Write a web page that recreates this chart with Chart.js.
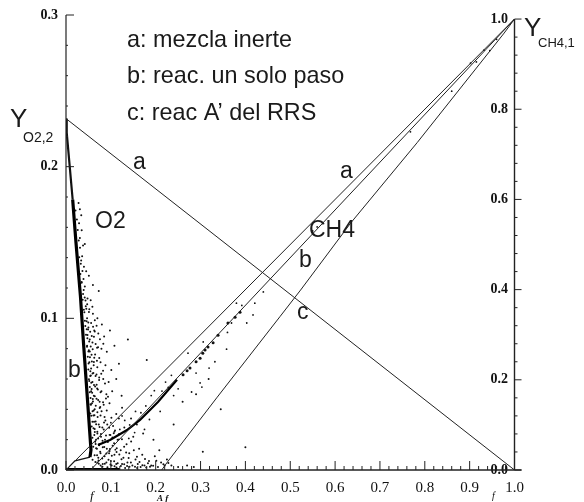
<!DOCTYPE html>
<html><head><meta charset="utf-8">
<style>html,body{margin:0;padding:0;background:#fff}canvas{display:block}</style>
<script src="https://cdn.jsdelivr.net/npm/chart.js@4"></script>
</head><body>
<div style="width:584px;height:502px"><canvas id="c" width="584" height="502"></canvas></div>
<script>
// Tick values
const xTicks = [0,0.1,0.2,0.3,0.4,0.5,0.6,0.7,0.8,0.9,1.0];
const o2Ticks = [0,0.1,0.2,0.3];
const ch4Ticks = [0,0.2,0.4,0.6,0.8,1.0];
// Lines
const o2Inert = [[0,0.2317],[1,0]];
const ch4Inert = [[0,0],[1,1]];
const ch4OneStep = [[0.055,0],[1,1]];
const ch4Rrs = [[0.2134,0],[0.2245,0.0155],[0.336,0.16],[0.477,0.34],[0.523,0.399],[0.635,0.548],[0.783,0.726],[0.977,0.969],[1,1]];
const o2SpineThin = [[0,0.2317],[0.0016,0.2224],[0.0149,0.1782]];
const o2Spine = [[0.0149,0.1782],[0.0223,0.1498],[0.0323,0.1142],[0.039,0.0838],[0.0479,0.0462],[0.0557,0.0132],[0.0535,0.0085]];
const ch4BandThick = [[0.0713,0.0554],[0.0981,0.0665],[0.136,0.0887],[0.165,0.111],[0.205,0.151],[0.2475,0.2]];
const originTail = [[0.0535,0.0085],[0.02,0.006],[0,0]];
const baseBand = [[0,0.0005],[0.12,0.0005]];
const ch4BandDots = [[0.261,0.211],[0.27,0.22],[0.2765,0.226],[0.29,0.24],[0.299,0.248],[0.305,0.259],[0.31,0.266],[0.3166,0.273],[0.328,0.282],[0.339,0.299],[0.361,0.326],[0.377,0.339],[0.388,0.35]];
const ch4Spray = [[0.369,0.326],[0.421,0.37],[0.417,0.344],[0.403,0.326],[0.358,0.268],[0.332,0.24],[0.319,0.226],[0.299,0.193],[0.303,0.184],[0.28,0.173],[0.306,0.284],[0.272,0.259],[0.25,0.18],[0.235,0.21],[0.222,0.195],[0.21,0.13],[0.19,0.165],[0.175,0.09],[0.155,0.13],[0.14,0.07],[0.125,0.12],[0.11,0.045],[0.12,0.09],[0.1,0.105],[0.38,0.37],[0.392,0.365],[0.932,0.931],[0.902,0.902],[0.768,0.75],[0.56,0.539],[0.55,0.53],[0.915,0.905],[0.945,0.93],[0.96,0.955],[0.86,0.84],[0.44,0.395],[0.36,0.305],[0.29,0.215],
[0.118,0.068],[0.131,0.11],[0.142,0.1],[0.153,0.083],[0.167,0.127],[0.178,0.142],[0.186,0.112],[0.197,0.176],[0.214,0.175],[0.228,0.183],[0.24,0.165],[0.108,0.085],[0.097,0.078]];
const o2Spray = [[0.031,0.172],[0.034,0.168],[0.028,0.176],[0.035,0.158],[0.031,0.153],[0.038,0.148],[0.042,0.149],[0.036,0.141],[0.033,0.136],[0.04,0.134],[0.045,0.131],[0.051,0.128],[0.039,0.126],[0.035,0.124],[0.042,0.121],[0.06,0.122],[0.073,0.118],[0.038,0.116],[0.048,0.113],[0.055,0.112],[0.044,0.108],[0.041,0.104],[0.052,0.106],[0.06,0.103],[0.047,0.1],[0.07,0.1],[0.08,0.096],[0.043,0.095],
[0.046,0.098],[0.05,0.094],[0.056,0.097],[0.063,0.092],[0.072,0.09],[0.085,0.088],[0.098,0.092],[0.048,0.089],[0.053,0.086],[0.059,0.084],[0.066,0.083],[0.079,0.08],[0.091,0.078],[0.108,0.082],[0.047,0.082],[0.051,0.079],[0.057,0.076],[0.063,0.074],[0.069,0.072],[0.077,0.071],[0.088,0.069],[0.101,0.066],[0.118,0.07],[0.052,0.071],[0.056,0.067],[0.061,0.064],[0.068,0.063],[0.074,0.061],[0.083,0.06],[0.095,0.058],[0.112,0.06],[0.054,0.062],[0.059,0.058],[0.065,0.055],[0.071,0.053],[0.079,0.052],[0.09,0.05],[0.103,0.052],[0.124,0.049],[0.056,0.052],[0.062,0.049],[0.068,0.047],[0.075,0.045],[0.084,0.043],[0.097,0.044],[0.058,0.044],[0.064,0.04],[0.07,0.038],[0.077,0.036],[0.086,0.035],[0.061,0.036],[0.066,0.032],[0.073,0.03],[0.081,0.028],[0.092,0.03],[0.064,0.027],[0.07,0.024],[0.078,0.022],[0.087,0.02],[0.099,0.023],[0.067,0.02],[0.074,0.017],[0.082,0.015],[0.091,0.014],[0.104,0.016],[0.115,0.02],[0.069,0.014],[0.077,0.011],[0.086,0.009],[0.096,0.011],[0.108,0.01],[0.122,0.013],[0.135,0.017],[0.072,0.008],
[0.18,0.0726],[0.138,0.086],[0.172,0.024],[0.15,0.022],[0.163,0.014],[0.128,0.008],[0.141,0.011],[0.155,0.007],[0.17,0.01],[0.185,0.006],[0.198,0.009],[0.212,0.005],[0.225,0.007],[0.09,0.005],[0.1,0.006],[0.112,0.004],[0.125,0.004],[0.137,0.005],[0.148,0.003],[0.16,0.004],[0.175,0.003],[0.19,0.003],[0.205,0.002],[0.22,0.003],[0.235,0.003],[0.25,0.002],[0.27,0.003],[0.285,0.002],[0.082,0.004],[0.07,0.005],[0.105,0.029],[0.118,0.034],[0.13,0.028],[0.145,0.034],[0.125,0.041],[0.112,0.037],[0.158,0.03],[0.195,0.02],[0.208,0.013],[0.24,0.03],[0.305,0.012],[0.4,0.015],[0.345,0.04],[0.29,0.05],[0.318,0.06],[0.26,0.045]];
const o2SprayDense = [[0.0435,0.1117],[0.0472,0.1093],[0.0511,0.1041],[0.0588,0.1076],[0.0643,0.0987],[0.0497,0.0973],[0.0539,0.0912],[0.0461,0.0928],[0.0604,0.0945],[0.0682,0.0951],[0.0757,0.0862],[0.0517,0.0848],[0.0477,0.0869],[0.0623,0.0879],[0.0551,0.0814],[0.0715,0.0809],[0.0499,0.0781],[0.0832,0.0833],[0.0595,0.0796],[0.0534,0.0743],[0.0649,0.0762],[0.0741,0.0738],[0.0577,0.0715],[0.0503,0.0702],[0.0618,0.0691],[0.0698,0.0677],[0.0543,0.0651],[0.0826,0.0654],[0.0592,0.0637],[0.0659,0.0619],[0.0738,0.0593],[0.0512,0.0598],[0.0563,0.0576],[0.0624,0.0561],[0.0869,0.0571],[0.0694,0.0538],[0.0531,0.0547],[0.0771,0.0512],[0.0583,0.0509],[0.0642,0.0487],[0.0936,0.0483],[0.0548,0.0474],[0.0717,0.0461],[0.0601,0.0452],[0.0826,0.0447],[0.0556,0.0431],[0.0663,0.0423],[0.0751,0.0408],[0.0908,0.0392],[0.0592,0.0387],
[0.0541,0.0372],[0.0634,0.0361],[0.0705,0.0349],[0.0793,0.0388],[0.0878,0.0326],[0.1012,0.0344],[0.0589,0.0318],[0.0672,0.0301],[0.0749,0.0284],[0.0841,0.0267],[0.0962,0.0279],[0.1093,0.0261],[0.0613,0.0275],[0.0698,0.0253],[0.0779,0.0237],[0.0892,0.0228],[0.1035,0.0214],[0.1183,0.0238],[0.0631,0.0231],[0.0716,0.0207],[0.0815,0.0193],[0.0934,0.0184],[0.1072,0.0176],[0.1247,0.0203],[0.0651,0.0186],[0.0738,0.0163],[0.0853,0.0151],[0.0979,0.0139],[0.1131,0.0143],[0.1296,0.0154],[0.1452,0.0188],[0.0671,0.0143],[0.0762,0.0121],[0.0901,0.0108],[0.1021,0.0094],[0.1189,0.0102],[0.1341,0.0116],[0.1512,0.0131],[0.0693,0.0098],[0.0808,0.0076],[0.0947,0.0067],[0.1073,0.0058],[0.1237,0.0071],[0.1397,0.0079],[0.1582,0.0088],[0.1761,0.0073],[0.0725,0.0063],[0.0866,0.0041],[0.0991,0.0037],[0.1152,0.0044],[0.1298,0.0038],[0.1447,0.0049],[0.1639,0.0052],[0.1827,0.0044],[0.2014,0.0061],[0.0772,0.0029],[0.1083,0.0024],[0.1361,0.0027],[0.1538,0.0022],[0.1703,0.0031],[0.1942,0.0028],[0.2171,0.0038],[0.2283,0.0046]];
const o2SprayNearSpine = [[0.0212,0.1711],[0.0243,0.1652],[0.0262,0.1583],[0.0291,0.1627],[0.0284,0.1514],[0.0312,0.1466],[0.0295,0.1402],[0.0338,0.1381],[0.0321,0.1293],[0.0366,0.1312],[0.0349,0.1234],[0.0394,0.1187],[0.0372,0.1122],[0.0417,0.1138],[0.0398,0.1056],[0.0453,0.1063],[0.0421,0.0984],[0.0446,0.0891],[0.0492,0.0927],[0.0468,0.0812],[0.0486,0.0746],[0.0531,0.0781],[0.0497,0.0662],[0.0518,0.0586],[0.0553,0.0623],[0.0529,0.0512],[0.0571,0.0534],[0.0546,0.0433],[0.0598,0.0468],[0.0562,0.0357],[0.0617,0.0392],[0.0573,0.0286],[0.0626,0.0318],[0.0589,0.0213],[0.0643,0.0251],[0.0607,0.0154],[0.0661,0.0172],[0.0638,0.0097],[0.0592,0.0068],[0.0655,0.0052],[0.0731,0.0041],[0.0812,0.0022],[0.0924,0.0018],[0.1017,0.0029],[0.1126,0.0017],[0.1223,0.0026],[0.1318,0.0014],[0.1416,0.0021],[0.1586,0.0013],[0.1664,0.0019],[0.1788,0.0016],[0.1873,0.0021],[0.0972,0.0126],[0.1127,0.0118],[0.1064,0.0243],[0.0848,0.0314],[0.0764,0.0415],[0.0891,0.0472],[0.0683,0.0562],[0.0786,0.0634],[0.0622,0.0712],[0.0693,0.0806],[0.0574,0.0883],[0.0641,0.0914]];

const pts = a => a.map(p => ({x:p[0], y:p[1]}));
const lineSet = (a, axis, w, col='#222') => ({type:'line', data:pts(a), yAxisID:axis, borderColor:col, borderWidth:w, pointRadius:0, tension:0, fill:false, parsing:false});
const dotSet = (a, axis, r, col='#111') => ({type:'scatter', data:pts(a), yAxisID:axis, backgroundColor:col, borderWidth:0, pointRadius:r, pointHoverRadius:r, parsing:false});

const annotations = [
 ['a: mezcla inerte',127,47,23.4],['b: reac. un solo paso',127,83,23.4],['c: reac A\u2019 del RRS',127,120,23.4],
 ['a',133,169,23],['O2',95,228,23],['a',340,178,23],['CH4',309,237,23],['b',299,267,23],['c',297,319,23],['b',68,377,23],
 ['Y',10,127,26],['O2,2',23,142,14],['Y',524,36,26],['CH4,1',538,47,13]
];
const smallLabels = [['f',90,500,'italic 13px "Liberation Serif"'],['f',492,499,'italic 10px "Liberation Serif"'],['A f',157,501,'italic bold 9px "Liberation Serif"']];

const decor = {
 id:'decor',
 afterDatasetsDraw(ch){
  const g = ch.ctx, X = ch.scales.x, L = ch.scales.o2, R = ch.scales.ch4;
  const x0 = X.getPixelForValue(0), x1 = X.getPixelForValue(1), yb = L.getPixelForValue(0);
  g.save(); g.strokeStyle='#222'; g.fillStyle='#111';
  const seg=(a,b,c,d,w)=>{g.lineWidth=w;g.beginPath();g.moveTo(a,b);g.lineTo(c,d);g.stroke();};
  seg(x0,L.getPixelForValue(0.3),x0,yb,1.2);
  seg(x1,R.getPixelForValue(1),x1,yb,1.4);
  seg(x0,yb,x1+7,yb,1.6);
  for(let i=0;i<=50;i++){const v=i/50,p=X.getPixelForValue(v);seg(p,yb,p,yb-(i%5===0?9:4),1);}
  for(let i=0;i<=15;i++){const v=i*0.02,p=L.getPixelForValue(v);seg(x0,p,x0+(i%5===0?8:2),p,1);}
  for(let i=0;i<=25;i++){const v=i*0.04,p=R.getPixelForValue(v);seg(x1,p,x1+(i%5===0?7:3),p,1);}
  g.textAlign='left'; g.textBaseline='alphabetic'; g.fillStyle='#1a1a1a';
  annotations.forEach(a=>{g.font=a[3]+'px "Liberation Sans"';g.fillText(a[0],a[1],a[2]);});
  g.fillStyle='#111';
  smallLabels.forEach(a=>{g.font=a[3];g.fillText(a[0],a[1],a[2]);});
  g.restore();
 }
};

const tickFont = {family:'"Liberation Serif"', size:14, weight:'bold'};
const xFont = {family:'"Liberation Serif"', size:15, weight:'normal'};
const noPad = s => { s.paddingTop = 0; s.paddingBottom = 0; };
new Chart(document.getElementById('c'),{
 data:{datasets:[
  lineSet(o2Inert,'o2',1),
  lineSet(ch4Inert,'ch4',1),
  lineSet(ch4OneStep,'ch4',1),
  lineSet(ch4Rrs,'ch4',1),
  lineSet(o2SpineThin,'o2',2.2,'#111'),
  lineSet(o2Spine,'o2',3.2,'#000'),
  lineSet(originTail,'o2',1.2,'#111'),
  lineSet(baseBand,'o2',2.6,'#000'),
  lineSet(ch4BandThick,'ch4',2.2,'#000'),
  dotSet(ch4BandDots,'ch4',1.5,'#111'),
  dotSet(ch4Spray,'ch4',0.9),
  dotSet(o2Spray,'o2',1),
  dotSet(o2SprayDense,'o2',1),
  dotSet(o2SprayNearSpine,'o2',1)
 ]},
 options:{
  responsive:false, animation:false, events:[],
  layout:{padding:{top:15,left:0,right:0,bottom:0}},
  plugins:{legend:{display:false},tooltip:{enabled:false},title:{display:false}},
  scales:{
   x:{type:'linear',min:0,max:1,grid:{display:false,drawTicks:false},border:{display:false},
      afterBuildTicks:s=>{s.ticks=xTicks.map(v=>({value:v}));},
      afterFit:s=>{s.height=32;},
      ticks:{autoSkip:false,maxRotation:0,padding:9,color:'#111',font:xFont,callback:v=>Number(v).toFixed(1)}},
   o2:{type:'linear',position:'left',min:0,max:0.3,grid:{display:false,drawTicks:false},border:{display:false},
      afterBuildTicks:s=>{s.ticks=o2Ticks.map(v=>({value:v}));},
      afterFit:s=>{s.width=66;noPad(s);},
      ticks:{autoSkip:false,padding:8,color:'#111',font:tickFont,callback:v=>Number(v).toFixed(1)}},
   ch4:{type:'linear',position:'right',min:0,max:1.009,grid:{display:false,drawTicks:false},border:{display:false},
      afterBuildTicks:s=>{s.ticks=ch4Ticks.map(v=>({value:v}));},
      afterFit:s=>{s.width=69.5;noPad(s);},
      ticks:{autoSkip:false,mirror:true,padding:-6.5,color:'#111',font:tickFont,callback:v=>Number(v).toFixed(1)}}
  }
 },
 plugins:[decor]
});
</script>
</body></html>
